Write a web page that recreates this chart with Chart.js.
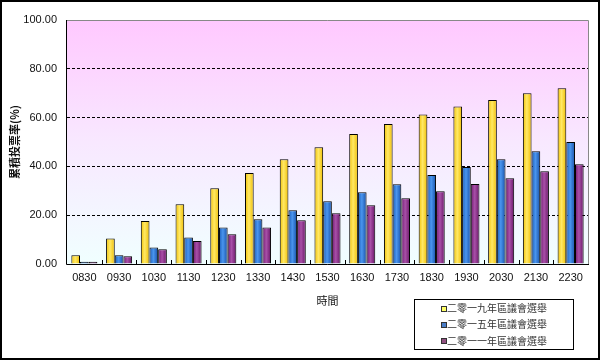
<!DOCTYPE html>
<html>
<head>
<meta charset="utf-8">
<script src="https://cdn.jsdelivr.net/npm/chart.js@4"></script>
<style>
html,body{margin:0;padding:0;background:#fff;}
canvas{display:block;}
</style>
</head>
<body>
<canvas id="c" width="601" height="361"></canvas>
<script>
const categories = ['0830','0930','1030','1130','1230','1330','1430','1530','1630','1730','1830','1930','2030','2130','2230'];
const seriesLabels = ['二零一九年區議會選舉','二零一五年區議會選舉','二零一一年區議會選舉'];
const s2019 = [3.6,10.5,17.6,24.5,31.0,37.3,42.9,47.8,53.3,57.4,61.3,64.6,67.2,70.0,72.0];
const s2015 = [0.9,3.6,6.8,10.9,15.0,18.3,22.0,25.7,29.4,32.7,36.5,39.8,42.9,46.2,50.0];
const s2011 = [0.9,3.2,6.0,9.4,12.2,15.0,17.9,20.8,24.1,26.9,29.8,32.8,35.1,38.0,40.9];
const yTicks = [0,20,40,60,80,100];

const CAT_PCT = 0.75;
const FONT = '"Liberation Sans", "Noto Sans CJK TC", sans-serif';
const CJK = '"Noto Sans CJK TC", "Liberation Sans", sans-serif';

function barGrad(stops, fallback){
  return function(ctx){
    const chart = ctx.chart;
    const xs = chart.scales && chart.scales.x;
    if (ctx.type !== 'data' || !xs || xs.right === undefined || !isFinite(xs.right)) return fallback;
    const n = categories.length;
    const cw = (xs.right - xs.left) / n;
    const bw = cw * CAT_PCT / 3;
    const cx = xs.getPixelForValue(ctx.dataIndex);
    const x0 = cx - cw * CAT_PCT / 2 + ctx.datasetIndex * bw;
    if (!isFinite(x0)) return fallback;
    const g = chart.ctx.createLinearGradient(x0, 0, x0 + bw, 0);
    g.addColorStop(0, stops[0]);
    g.addColorStop(0.45, stops[1]);
    g.addColorStop(1, stops[2]);
    return g;
  };
}

const legendMarkers = ['#FFFF66','#4A7EC8','#905080'];

const decor = {
  id: 'decor',
  beforeDraw(chart){
    const {ctx, chartArea:a} = chart;
    ctx.save();
    ctx.fillStyle = '#fff';
    ctx.fillRect(0,0,chart.width,chart.height);
    const g = ctx.createLinearGradient(0, a.top, 0, a.bottom);
    g.addColorStop(0, '#FFC8FF');
    g.addColorStop(0.5, '#F8E8FF');
    g.addColorStop(1, '#F0FFFF');
    ctx.fillStyle = g;
    ctx.fillRect(a.left, a.top, a.right - a.left, a.bottom - a.top);
    ctx.restore();
  },
  afterDraw(chart){
    const {ctx, chartArea:a} = chart;
    const xs = chart.scales.x;
    ctx.save();
    ctx.strokeStyle = '#888888';
    ctx.lineWidth = 1;
    ctx.beginPath();
    ctx.moveTo(a.left, a.top + 0.5);
    ctx.lineTo(a.right + 0.5, a.top + 0.5);
    ctx.lineTo(a.right + 0.5, a.bottom);
    ctx.stroke();
    ctx.strokeStyle = '#000';
    ctx.beginPath();
    ctx.moveTo(a.left - 0.5, a.top);
    ctx.lineTo(a.left - 0.5, a.bottom + 0.5);
    ctx.lineTo(a.right + 1, a.bottom + 0.5);
    ctx.stroke();
    const n = categories.length;
    const cw = (xs.right - xs.left) / n;
    ctx.beginPath();
    for (let i = 1; i < n; i++) {
      const x = Math.round(xs.getPixelForValue(i) - cw / 2) + 0.5;
      ctx.moveTo(x, a.bottom);
      ctx.lineTo(x, a.bottom - 4);
    }
    ctx.stroke();
    const lx = 414, ly = 299, lw = 159, lh = 50;
    ctx.fillStyle = '#fff';
    ctx.fillRect(lx, ly, lw, lh);
    ctx.strokeStyle = '#000';
    ctx.strokeRect(lx + 0.5, ly + 0.5, lw, lh);
    ctx.font = '10px ' + CJK;
    ctx.textBaseline = 'middle';
    ctx.textAlign = 'left';
    chart.data.datasets.forEach((ds, i) => {
      const y = ly + 9.5 + i * 16.2;
      const my = Math.round(y) - 3;
      ctx.fillStyle = '#333';
      ctx.fillRect(441, my, 6, 6);
      ctx.fillStyle = legendMarkers[i];
      ctx.fillRect(442, my + 1, 4, 4);
      ctx.fillStyle = '#333';
      ctx.fillText(ds.label, 447, y);
    });
    ctx.strokeStyle = '#000';
    ctx.lineWidth = 2;
    ctx.strokeRect(1, 1, chart.width - 3, chart.height - 3);
    ctx.restore();
  }
};

new Chart(document.getElementById('c'), {
  type: 'bar',
  data: {
    labels: categories,
    datasets: [
      { label: seriesLabels[0], data: s2019, backgroundColor: barGrad(['#F2C200','#FFE866','#F0BE00'], '#FFD700') },
      { label: seriesLabels[1], data: s2015, backgroundColor: barGrad(['#1A5CB8','#4A95EE','#1650A8'], '#2F74D0') },
      { label: seriesLabels[2], data: s2011, backgroundColor: barGrad(['#70186E','#A850A8','#681566'], '#8B2A8B') }
    ].map(d => Object.assign(d, { borderColor: '#000', borderWidth: 1, barPercentage: 1, categoryPercentage: CAT_PCT }))
  },
  options: {
    responsive: false,
    animation: false,
    devicePixelRatio: 1,
    layout: { padding: { top: 20, right: 13, left: 0, bottom: 0 } },
    plugins: { legend: { display: false }, tooltip: { enabled: false } },
    scales: {
      x: {
        offset: true,
        grid: { display: false, drawTicks: false },
        border: { display: false },
        ticks: { color: '#111', font: { family: FONT, size: 11 }, padding: 7, maxRotation: 0, autoSkip: false },
        title: { display: true, text: '時間', color: '#111', font: { family: CJK, size: 11 }, padding: { top: 0, bottom: 54 } },
        afterFit(s) { s.height = 97; }
      },
      y: {
        min: 0, max: 100,
        afterBuildTicks(s) { s.ticks = yTicks.map(v => ({ value: v })); },
        grid: {
          drawTicks: false,
          color: (c) => (c.tick && (c.tick.value === 0 || c.tick.value === 100)) ? 'rgba(0,0,0,0)' : '#000',
          lineWidth: 1
        },
        border: { display: false, dash: [3, 2] },
        ticks: { color: '#111', font: { family: FONT, size: 11 }, padding: 10, callback: (v) => Number(v).toFixed(2) },
        title: { display: true, text: '累積投票率(%)', color: '#111', font: { family: CJK, size: 11, weight: 'bold' }, padding: { top: 8, bottom: 0 } },
        afterFit(s) { s.width = 67; }
      }
    }
  },
  plugins: [decor]
});
</script>
</body>
</html>
